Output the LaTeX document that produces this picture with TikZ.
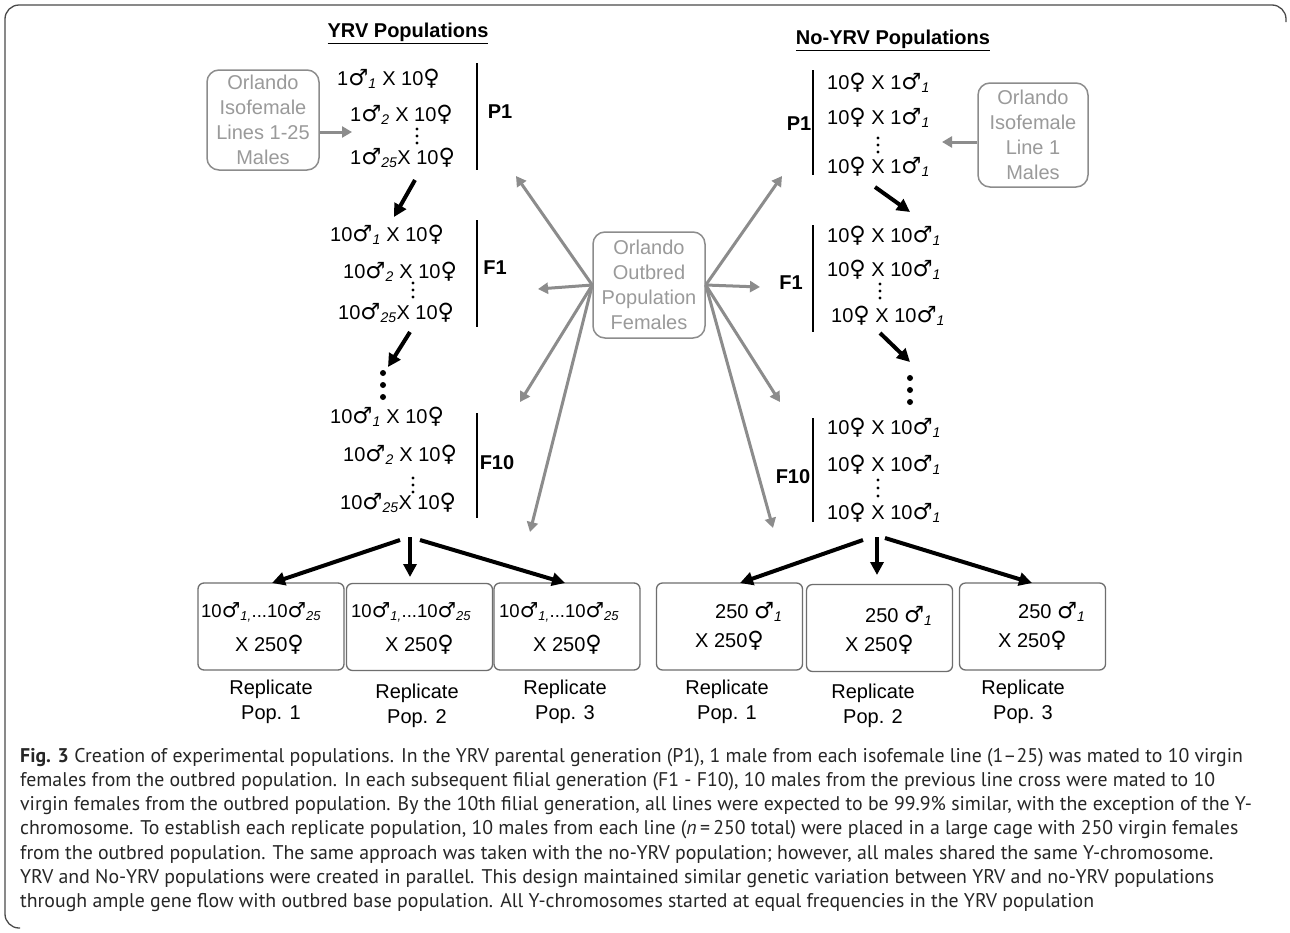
\documentclass[tikz,border=0pt]{standalone}
\usepackage{fontspec}
\setmainfont{Liberation Sans}
\newfontfamily\symfont[Scale=1.12]{DejaVu Sans}
\newfontfamily\capfont{PT Sans}
\usepackage{xcolor}
\usetikzlibrary{arrows.meta}

\definecolor{srcgray}{HTML}{8C8C8C}
\definecolor{srctext}{HTML}{9A9A9A}
\definecolor{boxgray}{HTML}{6E6E6E}
\definecolor{framegray}{HTML}{4A4A4A}

\newcommand{\male}{{\symfont ♂}}
\newcommand{\fem}{{\symfont ♀}}
\newcommand{\ms}[1]{\male\textsubscript{\itshape #1}}

\begin{document}
\begin{tikzpicture}[x=1pt,y=-1pt]

			\tikzstyle{cross} = [anchor=west,inner sep=0pt,font=\fontsize{20}{24}\selectfont]
			\tikzstyle{gen} = [inner sep=0pt,font=\bfseries\fontsize{20}{24}\selectfont]
			\tikzstyle{source} = [draw=srcgray,line width=1.5pt,rounded corners=12pt,text=srctext,align=center,inner sep=0pt,font=\fontsize{20}{25}\selectfont]
			\tikzstyle{repbox} = [draw=boxgray,line width=1.3pt,rounded corners=6pt,minimum width=146,minimum height=87]
			\tikzstyle{replbl} = [align=center,inner sep=0pt,font=\fontsize{20}{25}\selectfont]
			\tikzstyle{fromsrc} = [srcgray,line width=3pt,-{Triangle[length=10pt,width=11pt]}]
			\tikzstyle{passon} = [black,line width=4pt,-{Triangle[length=13pt,width=13pt]}]

			\useasboundingbox (0,0) rectangle (1290,932);
			\fill[white] (0,0) rectangle (1290,932);

			% frame
			\draw[framegray,line width=1.3pt,rounded corners=14pt] (20,928) -| (5,5) -| (1286,22);

			% titles
			\node[gen] (yrvtitle) at (408,33) {\underline{YRV Populations}};
			\node[gen] (noyrvtitle) at (893,40) {\underline{No-YRV Populations}};

			% source boxes
			\node[source,minimum width=112,minimum height=100] (isoA) at (263,120) {Orlando\\Isofemale\\Lines 1-25\\Males};
			\node[source,minimum width=110,minimum height=104] (isoB) at (1033,135) {Orlando\\Isofemale\\Line 1\\Males};
			\node[source,minimum width=112,minimum height=106] (outbred) at (649,285) {Orlando\\Outbred\\Population\\Females};

			%%% YRV side
			\node[cross] (yP1a) at (337,79) {1\ms{1} X 10\fem};
			\node[cross] (yP1b) at (350,115) {1\ms{2} X 10\fem};
			\node[cross] (yP1c) at (350,158) {1\ms{25}X 10\fem};
			\foreach \y in {129,136,143} \fill (417,\y) circle (1.6);
			\draw[line width=1.5pt] (477,63) -- (477,170);
			\node[gen] (yP1) at (500,112) {P1};

			\node[cross] (yF1a) at (330,235) {10\ms{1} X 10\fem};
			\node[cross] (yF1b) at (343,272) {10\ms{2} X 10\fem};
			\node[cross] (yF1c) at (338,313) {10\ms{25}X 10\fem};
			\foreach \y in {283,290,297} \fill (413,\y) circle (1.6);
			\draw[line width=1.5pt] (477,220) -- (477,327);
			\node[gen] (yF1) at (495,268) {F1};

			\foreach \y in {373,385,397} \fill (383,\y) circle (3);

			\node[cross] (yF10a) at (330,417) {10\ms{1} X 10\fem};
			\node[cross] (yF10b) at (343,455) {10\ms{2} X 10\fem};
			\node[cross] (yF10c) at (340,503) {10\ms{25}X 10\fem};
			\foreach \y in {478,485,492} \fill (413,\y) circle (1.6);
			\draw[line width=1.5pt] (477,413) -- (477,518);
			\node[gen] (yF10) at (497,463) {F10};

			\coordinate (yA1) at (415,180); \coordinate (yA2) at (394,217);
			\coordinate (yB1) at (410,332); \coordinate (yB2) at (388,367);
			\draw[passon] (yA1) -- (yA2);
			\draw[passon] (yB1) -- (yB2);

			\node[repbox] (yrep1) at (271,626.5) {};
			\node[repbox] (yrep2) at (419.5,627) {};
			\node[repbox] (yrep3) at (567,626.5) {};
			\foreach \b/\x in {yrep1/201,yrep2/351,yrep3/499} {
				\node[cross,font=\fontsize{18.5}{20}\selectfont] at (\x,612) {10\ms{1,}...10\ms{25}};
				\node[cross] at (\x+34,645) {X 250\fem};
			}
			\node[replbl] (ylbl1) at (271,702) {Replicate\\Pop. 1};
			\node[replbl] (ylbl2) at (417,706) {Replicate\\Pop. 2};
			\node[replbl] (ylbl3) at (565,702) {Replicate\\Pop. 3};

			\coordinate (yfanL) at (400,540); \coordinate (yfanM) at (410,537); \coordinate (yfanR) at (420,540);
			\draw[passon] (yfanL) -- (272,583);
			\draw[passon] (yfanM) -- (410,577);
			\draw[passon] (yfanR) -- (565,583);

			%%% No-YRV side
			\node[cross] (nP1a) at (827,83) {10\fem\ X 1\ms{1}};
			\node[cross] (nP1b) at (827,118) {10\fem\ X 1\ms{1}};
			\node[cross] (nP1c) at (827,167) {10\fem\ X 1\ms{1}};
			\foreach \y in {138,145,152} \fill (878,\y) circle (1.6);
			\draw[line width=1.5pt] (813,70) -- (813,175);
			\node[gen] (nP1) at (799,124) {P1};

			\node[cross] (nF1a) at (827,236) {10\fem\ X 10\ms{1}};
			\node[cross] (nF1b) at (827,270) {10\fem\ X 10\ms{1}};
			\node[cross] (nF1c) at (831,316) {10\fem\ X 10\ms{1}};
			\foreach \y in {284,291,298} \fill (880,\y) circle (1.6);
			\draw[line width=1.5pt] (813,225) -- (813,332);
			\node[gen] (nF1) at (791,283) {F1};

			\foreach \y in {378,390,402} \fill (910,\y) circle (3);

			\node[cross] (nF10a) at (827,428) {10\fem\ X 10\ms{1}};
			\node[cross] (nF10b) at (827,465) {10\fem\ X 10\ms{1}};
			\node[cross] (nF10c) at (827,513) {10\fem\ X 10\ms{1}};
			\foreach \y in {480,488,496} \fill (878,\y) circle (1.6);
			\draw[line width=1.5pt] (813,418) -- (813,522);
			\node[gen] (nF10) at (793,477) {F10};

			\coordinate (nA1) at (875,187); \coordinate (nA2) at (910,212);
			\coordinate (nB1) at (880,333); \coordinate (nB2) at (910,362);
			\draw[passon] (nA1) -- (nA2);
			\draw[passon] (nB1) -- (nB2);

			\node[repbox] (nrep1) at (729.5,626.5) {};
			\node[repbox] (nrep2) at (879.5,628) {};
			\node[repbox] (nrep3) at (1032.5,626.5) {};
			\foreach \b/\x/\y in {nrep1/657/612,nrep2/807/616,nrep3/960/612} {
				\node[cross] at (\x+58,\y) {250 \ms{1}};
				\node[cross] at (\x+38,\y+29) {X 250\fem};
			}
			\node[replbl] (nlbl1) at (727,702) {Replicate\\Pop. 1};
			\node[replbl] (nlbl2) at (873,706) {Replicate\\Pop. 2};
			\node[replbl] (nlbl3) at (1023,702) {Replicate\\Pop. 3};

			\coordinate (nfanL) at (863,540); \coordinate (nfanM) at (877,537); \coordinate (nfanR) at (885,538);
			\draw[passon] (nfanL) -- (740,583);
			\draw[passon] (nfanM) -- (877,575);
			\draw[passon] (nfanR) -- (1032,583);

			%%% gray arrows from the source populations
			\coordinate (toYP1) at (352,132);
			\coordinate (toNP1) at (942,142);
			\draw[fromsrc] (isoA.east |- toYP1) -- (toYP1);
			\draw[fromsrc] (isoB.west |- toNP1) -- (toNP1);

			\foreach \tx/\ty in {516/176,538/289,520/402,530/532}
				\draw[fromsrc] (outbred.west) -- (\tx,\ty);
			\foreach \tx/\ty in {782/176,760/287,780/402,773/528}
				\draw[fromsrc] (outbred.east) -- (\tx,\ty);

			% caption
			\node[anchor=north west,align=left,inner sep=0pt,text=black!85,font=\capfont\fontsize{19.8}{24.2}\selectfont] (caption) at (20,748) {%
				\textbf{Fig. 3} Creation of experimental populations. In the YRV parental generation (P1), 1 male from each isofemale line (1–25) was mated to 10 virgin\\
				females from the outbred population. In each subsequent filial generation (F1 - F10), 10 males from the previous line cross were mated to 10\\
				virgin females from the outbred population. By the 10th filial generation, all lines were expected to be 99.9\% similar, with the exception of the Y-\\
				chromosome. To establish each replicate population, 10 males from each line (\textit{n}\,=\,250 total) were placed in a large cage with 250 virgin females\\
				from the outbred population. The same approach was taken with the no-YRV population; however, all males shared the same Y-chromosome.\\
				YRV and No-YRV populations were created in parallel. This design maintained similar genetic variation between YRV and no-YRV populations\\
				through ample gene flow with outbred base population. All Y-chromosomes started at equal frequencies in the YRV population};

\end{tikzpicture}
\end{document}
